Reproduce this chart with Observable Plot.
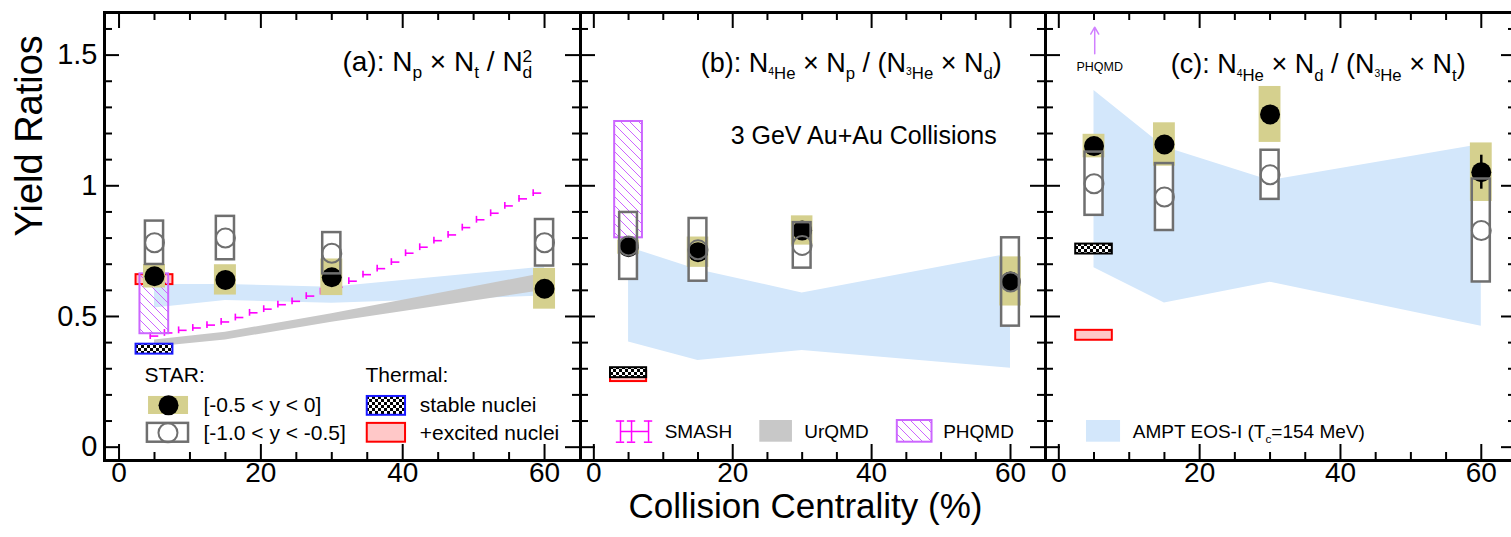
<!DOCTYPE html>
<html><head><meta charset="utf-8">
<script src="https://cdn.jsdelivr.net/npm/d3@7"></script>
<script src="https://cdn.jsdelivr.net/npm/@observablehq/plot@0.6"></script>
<style>
html,body{margin:0;padding:0;background:#fff;}
#chart{position:relative;width:1511px;height:537px;overflow:hidden;font-family:"Liberation Sans",Arial,sans-serif;}
</style></head><body>
<svg width="0" height="0" style="position:absolute;left:0;top:0">
<defs>
<pattern id="checker" patternUnits="userSpaceOnUse" width="6" height="6">
<rect width="6" height="6" fill="#fff"/><rect width="3" height="3" fill="#000"/><rect x="3" y="3" width="3" height="3" fill="#000"/>
</pattern>
<pattern id="hatch" patternUnits="userSpaceOnUse" width="9" height="9">
<path d="M0,0L9,9M-3,6L0,9M6,-3L9,0" stroke="#cc66ff" stroke-width="1"/>
</pattern>
</defs></svg>
<div id="chart"></div>
<script>
// ---------------- data ----------------
const centrality = [5, 15, 30, 60];

// (a) Np x Nt / Nd^2
const aMid = [0.654, 0.640, 0.650, 0.606];
const aMidStat = [0.012, 0.012, 0.015, 0.020];
const aMidSys = [0.045, 0.058, 0.070, 0.078];
const aFwd = [0.782, 0.800, 0.742, 0.782];
const aFwdSys = [0.083, 0.083, 0.079, 0.089];

// (b) N4He x Np / (N3He x Nd)
const bMid = [0.765, 0.746, 0.829, 0.634];
const bMidStat = [0.012, 0.012, 0.012, 0.020];
const bMidSys = [0.027, 0.058, 0.056, 0.094];
const bFwd = [0.770, 0.755, 0.772, 0.632];
const bFwdSys = [0.128, 0.120, 0.087, 0.169];

// (c) N4He x Nd / (N3He x Nt)
const cMid = [1.152, 1.158, 1.273, 1.052];
const cMidStat = [0.015, 0.020, 0.020, 0.065];
const cMidSys = [0.045, 0.083, 0.107, 0.112];
const cFwd = [1.008, 0.957, 1.042, 0.829];
const cFwdSys = [0.121, 0.128, 0.094, 0.197];

// AMPT EOS-I bands
const amptALo = [0.532, 0.561, 0.551, 0.578];
const amptAHi = [0.622, 0.622, 0.612, 0.689];
const amptBLo = [0.402, 0.332, 0.370, 0.302];
const amptBHi = [0.765, 0.679, 0.590, 0.740];
const amptCLo = [0.686, 0.552, 0.631, 0.463];
const amptCHi = [1.365, 1.148, 1.020, 1.158];

// UrQMD band (a)
const urqmdALo = [0.383, 0.410, 0.478, 0.600];
const urqmdAHi = [0.410, 0.440, 0.510, 0.665];

// SMASH (a)
const smashX = [5, 7, 9, 11, 13, 15, 17, 19, 21, 23, 25, 27, 29, 31, 33, 35, 37, 39, 41, 43, 45, 47, 49, 51, 53, 55, 57, 59];
const smashY = [0.425, 0.437, 0.447, 0.456, 0.467, 0.479, 0.496, 0.514, 0.528, 0.545, 0.558, 0.578, 0.595, 0.612, 0.635, 0.660, 0.683, 0.708, 0.742, 0.765, 0.790, 0.812, 0.840, 0.870, 0.895, 0.923, 0.950, 0.972];

// PHQMD (0-10%)
const phqmdA = [0.434, 0.663];
const phqmdB = [0.801, 1.246];
const phqmdCArrow = [1.505, 1.607];

// Thermal model (a, b, c)
const thermalStable = [0.375, 0.285, 0.758];
const thermalExcited = [0.641, 0.270, 0.428];

// ticks
const xTickLabels = [0, 20, 40, 60];
const xMinorTicks = [5, 10, 15, 25, 30, 35, 45, 50, 55];
const yTickLabels = [0, 0.5, 1, 1.5];
const yMinorTicks = [0.1, 0.2, 0.3, 0.4, 0.6, 0.7, 0.8, 0.9, 1.1, 1.2, 1.3, 1.4, 1.6];

const panelTitles = [
  "(a): N_{p} × N_{t} / N_{d}^{2}",
  "(b): N_{^{4}He} × N_{p} / (N_{^{3}He} × N_{d})",
  "(c): N_{^{4}He} × N_{d} / (N_{^{3}He} × N_{t})"
];

// ---------------- styles ----------------
const FONT = "Liberation Sans, Arial, sans-serif";
const YEL = "#d5d08e", GRAY = "#6f6f6f", BLUE = "#d3e7fb", URQ = "#c8c8c8";
const MAG = "#ff00ff", VIO = "#cc66ff";
const FH = 448; // frame height px

const rowsOf = (mid, stat, sys, fwd, fsys) =>
  centrality.map((x, i) => ({x, mid: mid[i], stat: stat[i], sys: sys[i], fwd: fwd[i], fsys: fsys[i]}));
const bandOf = (lo, hi) => centrality.map((x, i) => ({x, lo: lo[i], hi: hi[i]}));
const box = (x1, x2, y1, y2, opts) => Plot.rect([{x1, x2, y1, y2}], {x1: "x1", x2: "x2", y1: "y1", y2: "y2", ...opts});
const label = (t, x, y, size, opts = {}) => Plot.text([t], {x, y, text: d => d, textAnchor: "start", fontSize: size, fill: "black", ...opts});

function frameMarks(w, withYLabels) {
  const m = [
    Plot.ruleX(xTickLabels, {x: d => d, insetTop: FH - 16, stroke: "black", strokeWidth: 2}),
    Plot.ruleX(xMinorTicks, {x: d => d, insetTop: FH - 8, stroke: "black", strokeWidth: 2}),
    Plot.ruleX(xTickLabels, {x: d => d, insetBottom: FH - 16, stroke: "black", strokeWidth: 2}),
    Plot.ruleX(xMinorTicks, {x: d => d, insetBottom: FH - 8, stroke: "black", strokeWidth: 2}),
    Plot.ruleY(yTickLabels, {y: d => d, insetRight: w - 15, stroke: "black", strokeWidth: 2}),
    Plot.ruleY(yMinorTicks, {y: d => d, insetRight: w - 8, stroke: "black", strokeWidth: 2}),
    Plot.ruleY(yTickLabels, {y: d => d, insetLeft: w - 15, stroke: "black", strokeWidth: 2}),
    Plot.ruleY(yMinorTicks, {y: d => d, insetLeft: w - 8, stroke: "black", strokeWidth: 2}),
    Plot.frame({stroke: "black", strokeWidth: 3}),
    Plot.text(xTickLabels, {x: d => d, text: d => String(d), frameAnchor: "bottom", dy: 21, fontSize: 28, fill: "black"})
  ];
  if (withYLabels) m.push(Plot.text(yTickLabels, {y: d => d, text: d => String(d), frameAnchor: "left", dx: -7, textAnchor: "end", fontSize: 29, fill: "black"}));
  return m;
}

function starUnder(rows) {
  return [Plot.rect(rows, {x1: d => d.x - 1.28, x2: d => d.x + 1.28, y1: d => d.fwd - d.fsys, y2: d => d.fwd + d.fsys, fill: "white"})];
}
function starOver(rows) {
  return [
    Plot.rect(rows, {x1: d => d.x - 1.55, x2: d => d.x + 1.55, y1: d => d.mid - d.sys, y2: d => d.mid + d.sys, fill: YEL}),
    Plot.ruleX(rows, {x: "x", y1: d => d.mid - d.stat, y2: d => d.mid + d.stat, stroke: "black", strokeWidth: 2.5}),
    Plot.dot(rows, {x: "x", y: "mid", r: 10, fill: "black", stroke: "none"}),
    Plot.rect(rows, {x1: d => d.x - 1.28, x2: d => d.x + 1.28, y1: d => d.fwd - d.fsys, y2: d => d.fwd + d.fsys, fill: "none", stroke: GRAY, strokeWidth: 2.5}),
    Plot.dot(rows, {x: "x", y: "fwd", r: 9.5, fill: "none", stroke: GRAY, strokeWidth: 2})
  ];
}
const band = (rows, fill) => Plot.areaY(rows, {x: "x", y1: "lo", y2: "hi", fill, curve: "linear"});
const thermal = (i, strokeStable) => [
  box(centrality[0] - 2.6, centrality[0] + 2.6, thermalExcited[i] - 0.019, thermalExcited[i] + 0.019, {fill: "#ffc8c8", stroke: "#ff0000", strokeWidth: 2}),
  box(centrality[0] - 2.6, centrality[0] + 2.6, thermalStable[i] - 0.019, thermalStable[i] + 0.019, {fill: "url(#checker)", stroke: strokeStable, strokeWidth: 2})
];

const yScale = {domain: [-0.051, 1.663], axis: null};
function makePlot(ml, w, xdom, marks) {
  return Plot.plot({
    width: ml + w, height: 537, marginLeft: ml, marginRight: 0, marginTop: 12, marginBottom: 77,
    x: {domain: xdom, axis: null}, y: yScale,
    style: {fontFamily: FONT, background: "transparent", overflow: "visible"},
    marks
  });
}

// ---------------- panel (a) ----------------
const rowsA = rowsOf(aMid, aMidStat, aMidSys, aFwd, aFwdSys);
const smashRows = smashX.map((x, i) => ({x, y: smashY[i]}));
const panelA = makePlot(104, 476, [-2.05, 65.07], [
  band(bandOf(amptALo, amptAHi), BLUE),
  band(bandOf(urqmdALo, urqmdAHi), URQ),
  ...thermal(0, "#1a1aff"),
  ...starUnder(rowsA),
  Plot.ruleY(smashRows, {y: "y", x1: d => d.x - 0.6, x2: d => d.x + 0.6, stroke: MAG, strokeWidth: 1.6}),
  Plot.ruleX(smashRows, {x: d => d.x - 0.6, y1: d => d.y - 0.013, y2: d => d.y + 0.013, stroke: MAG, strokeWidth: 1.6}),
  box(centrality[0] - 2.05, centrality[0] + 2.0, phqmdA[0], phqmdA[1], {fill: "url(#hatch)", stroke: VIO, strokeWidth: 2}),
  ...starOver(rowsA),
  // legend
  label("STAR:", 3.6, 0.274, 21),
  label("Thermal:", 34.75, 0.274, 21),
  box(4.16, 9.8, 0.125, 0.194, {fill: YEL}),
  Plot.dot([0], {x: 6.98, y: 0.16, r: 10, fill: "black"}),
  box(4.0, 9.8, 0.019, 0.091, {fill: "none", stroke: GRAY, strokeWidth: 2.5}),
  Plot.dot([0], {x: 6.9, y: 0.055, r: 9.5, fill: "none", stroke: GRAY, strokeWidth: 2}),
  label("[-0.5 < y < 0]", 11.9, 0.16, 21),
  label("[-1.0 < y < -0.5]", 11.9, 0.055, 21),
  box(35.0, 40.4, 0.122, 0.194, {fill: "url(#checker)", stroke: "#1a1aff", strokeWidth: 2}),
  box(35.0, 40.4, 0.019, 0.091, {fill: "#ffc8c8", stroke: "#ff0000", strokeWidth: 2}),
  label("stable nuclei", 42.4, 0.16, 21),
  label("+excited nuclei", 42.4, 0.055, 21),
  label(panelTitles[0], 31.5, 1.475, 28),
  Plot.text(["Yield Ratios"], {text: d => d, frameAnchor: "left", dx: -75, rotate: -90, fontSize: 38, fill: "black"}),
  ...frameMarks(476, true)
]);

// ---------------- panel (b) ----------------
const rowsB = rowsOf(bMid, bMidStat, bMidSys, bFwd, bFwdSys);
const smashLegX = [3.84, 5.43, 7.88];
const panelB = makePlot(0, 465, [-1.92, 65.04], [
  band(bandOf(amptBLo, amptBHi), BLUE),
  ...thermal(1, "#000000"),
  ...starUnder(rowsB),
  box(centrality[0] - 2.0, centrality[0] + 2.0, phqmdB[0], phqmdB[1], {fill: "url(#hatch)", stroke: VIO, strokeWidth: 2}),
  ...starOver(rowsB),
  label(panelTitles[1], 15.4, 1.47, 27),
  label("3 GeV Au+Au Collisions", 19.7, 1.192, 25),
  // legend
  Plot.ruleX(smashLegX, {x: d => d, y1: 0.019, y2: 0.100, stroke: MAG, strokeWidth: 1.5}),
  Plot.ruleY([0.06], {y: d => d, x1: 3.84, x2: 7.88, stroke: MAG, strokeWidth: 1.5}),
  Plot.ruleY(smashLegX, {y: 0.100, x1: d => d - 0.6, x2: d => d + 0.6, stroke: MAG, strokeWidth: 1.5}),
  Plot.ruleY(smashLegX, {y: 0.019, x1: d => d - 0.6, x2: d => d + 0.6, stroke: MAG, strokeWidth: 1.5}),
  label("SMASH", 10.2, 0.06, 19),
  box(23.9, 28.6, 0.019, 0.102, {fill: URQ}),
  label("UrQMD", 30.3, 0.06, 19),
  box(43.7, 48.7, 0.019, 0.102, {fill: "url(#hatch)", stroke: VIO, strokeWidth: 2}),
  label("PHQMD", 50.3, 0.06, 19),
  Plot.text(["Collision Centrality (%)"], {text: d => d, frameAnchor: "bottom", dy: 57, dx: -7.5, fontSize: 35, fill: "black"}),
  ...frameMarks(465, false)
]);

// ---------------- panel (c) ----------------
const rowsC = rowsOf(cMid, cMidStat, cMidSys, cFwd, cFwdSys);
const panelC = makePlot(0, 471, [-1.89, 65.0], [
  band(bandOf(amptCLo, amptCHi), BLUE),
  ...thermal(2, "#000000"),
  ...starUnder(rowsC),
  ...starOver(rowsC),
  Plot.arrow([0], {x1: 5.1, x2: 5.1, y1: phqmdCArrow[0], y2: phqmdCArrow[1], stroke: "#d080ff", strokeWidth: 1.5, headLength: 8}),
  Plot.text(["PHQMD"], {text: d => d, x: 5.8, y: 1.454, fontSize: 12.5, fill: "black"}),
  label(panelTitles[2], 15.9, 1.464, 27),
  box(3.93, 8.77, 0.019, 0.102, {fill: BLUE}),
  label("AMPT EOS-I (T_{c}=154 MeV)", 10.5, 0.06, 19),
  ...frameMarks(471, false)
]);

const chart = document.getElementById("chart");
[[panelA, 0], [panelB, 580], [panelC, 1045]].forEach(([svg, left]) => {
  svg.style.position = "absolute";
  svg.style.left = left + "px";
  svg.style.top = "0px";
  svg.style.maxWidth = "none";
  chart.appendChild(svg);
});

// ---------------- rich text (sub/superscripts) ----------------
function parseRich(s) {
  const runs = [], stack = [];
  let buf = "", i = 0;
  const flush = () => { if (buf) runs.push({text: buf, stack: stack.slice()}); buf = ""; };
  while (i < s.length) {
    if ((s[i] === "_" || s[i] === "^") && s[i + 1] === "{") { flush(); stack.push(s[i]); i += 2; }
    else if (s[i] === "}" && stack.length) { flush(); stack.pop(); i++; }
    else { buf += s[i]; i++; }
  }
  flush();
  return runs;
}
function richify(root) {
  root.querySelectorAll("text").forEach(t => {
    const s = t.textContent;
    if (!/[_^]\{/.test(s)) return;
    const F = parseFloat(getComputedStyle(t).fontSize);
    const runs = parseRich(s);
    t.textContent = "";
    let cur = 0, prev = null;
    for (const r of runs) {
      let size = F, off = 0;
      r.stack.forEach((k, depth) => {
        if (k === "_") { off += (depth ? 0.2 : 0.28) * size; size *= 0.62; }
        else { off -= (depth ? 0.25 : 0.3) * size; size *= 0.62; }
      });
      const ts = document.createElementNS("http://www.w3.org/2000/svg", "tspan");
      ts.setAttribute("font-size", size);
      ts.setAttribute("dy", off - cur);
      cur = off;
      ts.textContent = r.text;
      t.appendChild(ts);
      if (prev && r.stack.length === 1 && r.stack[0] === "^" && prev.stack.length === 1 && prev.stack[0] === "_") {
        ts.setAttribute("dx", -prev.el.getComputedTextLength());
      }
      r.el = ts; prev = r;
    }
  });
}
richify(chart);
</script>
</body></html>
